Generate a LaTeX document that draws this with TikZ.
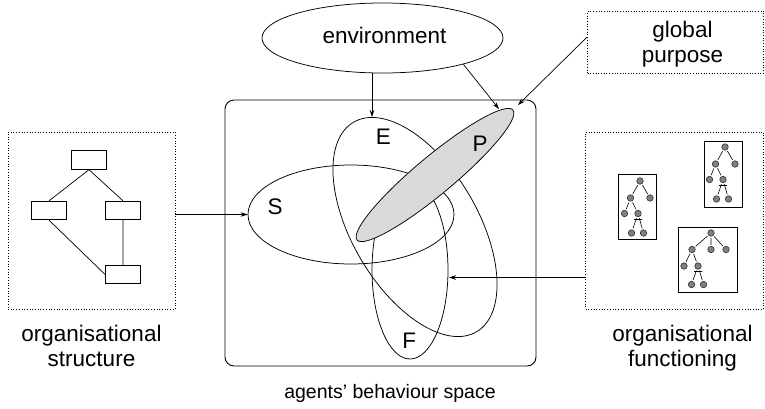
\documentclass[tikz,border=0pt]{standalone}
\usepackage{fontspec}
\setmainfont{Liberation Sans}
\usetikzlibrary{shapes.geometric,arrows.meta}

\tikzset{
	txt/.style={inner sep=0pt,font=\fontsize{22.5}{25}\selectfont,align=center},
	arr/.style={-{Stealth[length=7pt,width=4.5pt]},line width=0.7pt},
	oval/.style={draw,ellipse,inner sep=0pt,line width=0.75pt},
	blk/.style={draw,rectangle,inner sep=0pt,minimum width=35pt,minimum height=18.5pt,line width=0.8pt},
	leaf/.style={draw=black!80,circle,inner sep=0pt,minimum size=6.5pt,fill=gray,outer sep=1.5pt,line width=0.6pt},
	dotbox/.style={draw,dotted,line width=0.7pt,rectangle,inner sep=0pt}
}

\begin{document}
\begin{tikzpicture}[x=1pt,y=-1pt]
	\useasboundingbox (0,0) rectangle (765,408);

	\node[dotbox,minimum width=167pt,minimum height=177pt] (sbox) at (91.5,220.5) {};
	\node[dotbox,minimum width=178pt,minimum height=177pt] (fbox) at (674.5,220.5) {};
	\node[dotbox,minimum width=176pt,minimum height=62pt] (gp) at (675.5,42) {};
	\node[draw,rounded corners=9pt,line width=0.9pt,minimum width=311pt,minimum height=266pt] (space) at (380.5,233) {};

	\node[oval,minimum width=241pt,minimum height=70pt] (env) at (382.5,38) {};
	\node[txt,anchor=base] (envlbl) at (384.5,43.3) {environment};

	\node[oval,minimum width=206pt,minimum height=99pt] (S) at (351,214.5) {};
	\node[oval,minimum width=243pt,minimum height=126pt,rotate=-59.6] (E) at (415,227) {};
	\node[oval,minimum width=76pt,minimum height=178pt] (F) at (410,270) {};
	\node[oval,fill=gray!30,minimum width=203pt,minimum height=38pt,rotate=39.8] (P) at (435,175) {};

	\node[txt,anchor=base] (Sl) at (275,214) {S};
	\node[txt,anchor=base] (El) at (383.3,144) {E};
	\node[txt,anchor=base] (Pl) at (480,151) {P};
	\node[txt,anchor=base] (Fl) at (409.2,348.3) {F};

	\node[txt,anchor=north] (gplbl) at (682.5,20.5) {global\\purpose};
	\node[txt,anchor=north] (stlbl) at (91.5,325) {organisational\\structure};
	\node[txt,anchor=north] (fnlbl) at (682.5,325) {organisational\\functioning};
	\node[txt,anchor=base,font=\fontsize{19.5}{22}\selectfont] (splbl) at (390,398) {agents' behaviour space};

	\coordinate (etop) at (372,117);
	\coordinate (ptop) at (499,109);
	\coordinate (pend) at (518,105);
	\coordinate (fside) at (449,277.5);
	\draw[arr] (env.south -| etop) -- (etop);
	\draw[arr] (env.-18.4) -- (ptop);
	\draw[arr] ([yshift=5pt]gp.west) -- (pend);
	\draw[arr] (sbox.east |- S.west) -- (S.west);
	\draw[arr] (fbox.west |- fside) -- (fside);

	\node[blk] (top) at (89,160) {};
	\node[blk] (lft) at (49,210.5) {};
	\node[blk] (rgt) at (123,210.5) {};
	\node[blk] (bot) at (123,274.5) {};
	\draw[line width=0.7pt] (top.south) -- (lft.north) (top.south) -- (rgt.north)
		(lft.south) -- (bot.west) (rgt.south) -- (bot.north);

	\draw[line width=1pt] (618,174) rectangle (656,239);
	\draw[line width=1pt] (704,141) rectangle (742,207);
	\draw[line width=1pt] (678,227) rectangle (737,292);

	\foreach \t/\cx/\cy in {a/640/181,b/725/147}{
		\begin{scope}[shift={(\cx,\cy)}]
			\node[leaf] (\t0) at (0,0) {};
			\node[leaf] (\t1) at (-9.5,17) {};
			\node[leaf] (\t2) at (10,17) {};
			\node[leaf] (\t3) at (-15.5,32.5) {};
			\node[leaf] (\t4) at (-2,32.5) {};
			\node[leaf] (\t5) at (-8.5,52) {};
			\node[leaf] (\t6) at (3.5,52) {};
			\draw[line width=0.6pt] (\t0) -- (\t1) (\t0) -- (\t2) (\t1) -- (\t3) (\t1) -- (\t4)
				(\t4) -- (\t5) (\t4) -- (\t6) (-6,38.5) -- (2,38.5);
		\end{scope}
	}

	\begin{scope}[shift={(711,233)}]
		\node[leaf] (c0) at (0,0) {};
		\node[leaf] (c1) at (-19,16.5) {};
		\node[leaf] (c2) at (0,16.5) {};
		\node[leaf] (c3) at (15,16.5) {};
		\node[leaf] (c4) at (-27,33) {};
		\node[leaf] (c5) at (-13,33) {};
		\node[leaf] (c6) at (-19.5,51.5) {};
		\node[leaf] (c7) at (-7.5,51.5) {};
		\draw[line width=0.6pt] (c0) -- (c1) (c0) -- (c2) (c0) -- (c3) (c1) -- (c4) (c1) -- (c5)
			(c5) -- (c6) (c5) -- (c7) (-17,38.5) -- (-9,38.5);
	\end{scope}
\end{tikzpicture}
\end{document}
